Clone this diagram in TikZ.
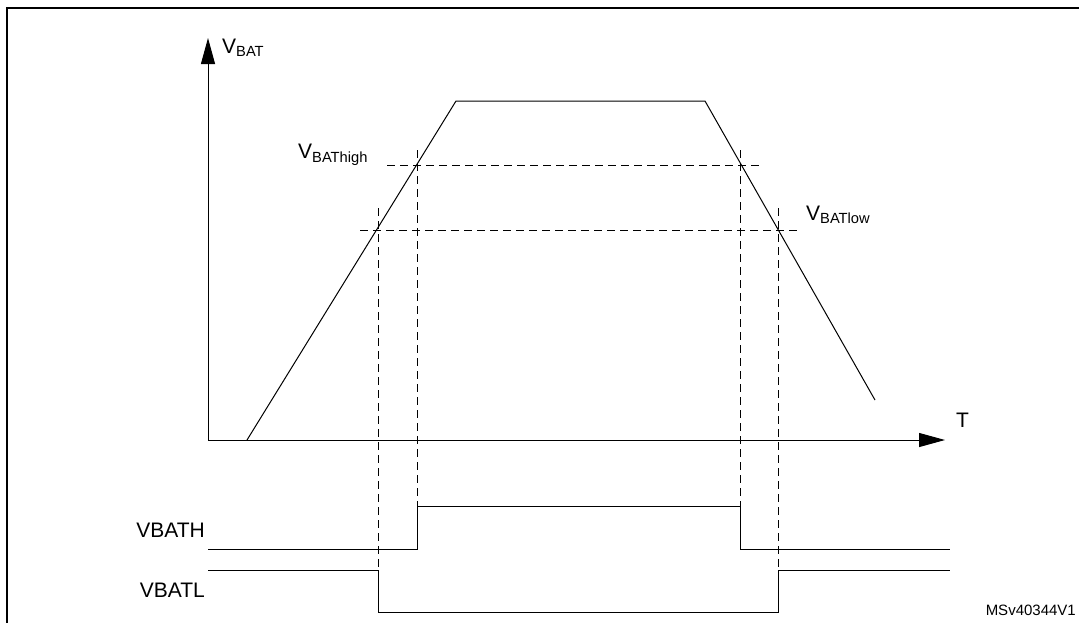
\documentclass[tikz,border=0pt]{standalone}
\usepackage{fontspec}
\setmainfont{Liberation Sans}
\usetikzlibrary{arrows.meta}
\begin{document}
\begin{tikzpicture}[x=1pt,y=-1pt,
  lbl/.style={font=\fontsize{21}{25}\selectfont,inner sep=0pt},
  guide/.style={dash pattern=on 8pt off 5pt,line width=0.8pt},
  wave/.style={line width=1pt}]
\useasboundingbox (0,0) rectangle (1079,622);
%frame
\draw[line width=1.2pt] (7,630) -- (7,8) -- (1090,8);
%axes
\coordinate (o) at (208,440);
\coordinate (ytip) at (208,38);
\coordinate (xtip) at (945,440);
\draw[wave,-{Triangle[length=26pt,width=14pt]}] (o) -- (ytip);
\draw[wave,-{Triangle[length=26pt,width=14pt]}] (o) -- (xtip);
\node[lbl,anchor=west] (vbat) at (222,48) {V\textsubscript{BAT}};
\node[lbl,anchor=west] (t) at (956,420) {T};
%thresholds
\draw[guide] (387,165) -- (763,165);
\draw[guide] (360,230) -- (800,230);
\node[lbl,anchor=west] (vhigh) at (298,155) {V\textsubscript{BAThigh}};
\node[lbl,anchor=west] (vlow) at (806,215) {V\textsubscript{BATlow}};
%battery voltage
\draw[wave] (247,440) -- (456,101) -- (705,101) -- (875,400);
%crossings
\draw[guide] (378,208) -- (378,606);
\draw[guide] (417,150) -- (417,506);
\draw[guide] (740,150) -- (740,548);
\draw[guide] (778,208) -- (778,606);
%digital outputs
\draw[wave] (208,549) -- (417,549) -- (417,506) -- (740,506) -- (740,549) -- (950,549);
\draw[wave] (208,570) -- (378,570) -- (378,612) -- (778,612) -- (778,570) -- (950,570);
\node[lbl,anchor=east] (vbath) at (205,530) {VBATH};
\node[lbl,anchor=east] (vbatl) at (205,590) {VBATL};
\node[font=\fontsize{15}{18}\selectfont,anchor=east,inner sep=0pt] (ref) at (1076,610) {MSv40344V1};
\end{tikzpicture}
\end{document}
